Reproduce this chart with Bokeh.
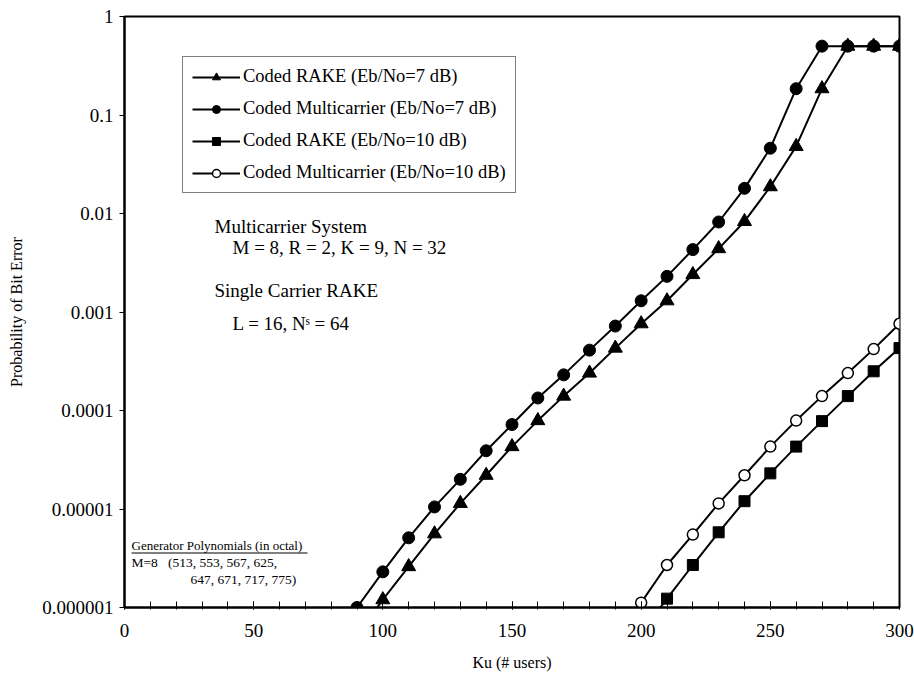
from bokeh.plotting import figure
from bokeh.models import Label, FixedTicker, CustomJSTickFormatter, Range1d, Legend, LegendItem, BoxAnnotation
from bokeh.embed import file_html
from bokeh.resources import INLINE

# ---- data ----
x_rake7 = [90, 100, 110, 120, 130, 140, 150, 160, 170, 180, 190, 200, 210, 220, 230, 240, 250, 260, 270, 280, 290, 300]
y_rake7 = [5.2e-7, 1.2e-6, 2.6e-6, 5.6e-6, 1.14e-5, 2.2e-5, 4.3e-5, 7.9e-5, 1.4e-4, 2.4e-4, 4.3e-4, 7.6e-4,
           1.3e-3, 2.4e-3, 4.4e-3, 8.3e-3, 1.87e-2, 4.8e-2, 0.185, 0.5, 0.5, 0.5]

x_mc7 = [80, 90, 100, 110, 120, 130, 140, 150, 160, 170, 180, 190, 200, 210, 220, 230, 240, 250, 260, 270, 280, 290, 300]
y_mc7 = [4.3e-7, 1.0e-6, 2.3e-6, 5.1e-6, 1.05e-5, 2.0e-5, 3.9e-5, 7.2e-5, 1.34e-4, 2.3e-4, 4.1e-4, 7.2e-4,
         1.3e-3, 2.3e-3, 4.3e-3, 8.2e-3, 1.8e-2, 4.6e-2, 0.185, 0.5, 0.5, 0.5, 0.5]

x_rake10 = [200, 210, 220, 230, 240, 250, 260, 270, 280, 290, 300]
y_rake10 = [5.5e-7, 1.23e-6, 2.7e-6, 5.8e-6, 1.2e-5, 2.3e-5, 4.3e-5, 7.8e-5, 1.4e-4, 2.5e-4, 4.3e-4]

x_mc10 = [190, 200, 210, 220, 230, 240, 250, 260, 270, 280, 290, 300]
y_mc10 = [4.5e-7, 1.12e-6, 2.7e-6, 5.5e-6, 1.14e-5, 2.2e-5, 4.3e-5, 7.9e-5, 1.4e-4, 2.4e-4, 4.2e-4, 7.6e-4]

series_labels = ["Coded RAKE (Eb/No=7 dB)", "Coded Multicarrier (Eb/No=7 dB)",
                 "Coded RAKE (Eb/No=10 dB)", "Coded Multicarrier (Eb/No=10 dB)"]

x_ticks = [0, 50, 100, 150, 200, 250, 300]
y_ticks = [1e-6, 1e-5, 1e-4, 1e-3, 1e-2, 1e-1, 1]
y_tick_labels = ["0.000001", "0.00001", "0.0001", "0.001", "0.01", "0.1", "1"]

FONT = "Liberation Serif"
NB = "\u00a0"

p = figure(width=914, height=677, y_axis_type="log", output_backend="svg", toolbar_location=None,
           x_range=Range1d(0, 300), y_range=Range1d(1e-6, 1),
           min_border_left=124, min_border_right=15, min_border_top=16, min_border_bottom=70)
p.xgrid.visible = False
p.ygrid.visible = False
p.outline_line_color = "black"
p.outline_line_width = 2
p.background_fill_color = "white"
p.border_fill_color = "white"

# axes
p.xaxis.ticker = FixedTicker(ticks=x_ticks, minor_ticks=list(range(0, 301, 10)))
p.yaxis.ticker = FixedTicker(ticks=y_ticks, minor_ticks=[])
p.yaxis.formatter = CustomJSTickFormatter(args=dict(tvals=y_ticks, tlabels=y_tick_labels), code="""
    let best = -1, bd = 1e9;
    for (let i = 0; i < tvals.length; i++) {
        const d = Math.abs(Math.log10(tvals[i]) - Math.log10(tick));
        if (d < bd) { bd = d; best = i; }
    }
    return bd < 1e-3 ? tlabels[best] : "";
""")
for ax in (p.xaxis, p.yaxis):
    ax.axis_line_color = "black"
    ax.axis_line_width = 2
    ax.major_tick_line_color = "black"
    ax.minor_tick_line_color = "black"
    ax.major_tick_line_width = 1
    ax.minor_tick_line_width = 1
    ax.major_label_text_font = FONT
    ax.major_label_text_font_size = "19px"
    ax.major_label_text_color = "black"
    ax.axis_label_text_font = FONT
    ax.axis_label_text_font_size = "16px"
    ax.axis_label_text_font_style = "normal"
    ax.axis_label_text_color = "black"

p.xaxis.major_tick_in = 6
p.xaxis.major_tick_out = 2
p.xaxis.minor_tick_in = 6
p.xaxis.minor_tick_out = 2
p.xaxis.major_label_standoff = 14
p.xaxis.axis_label = "Ku (# users)"
p.xaxis.axis_label_standoff = 14

p.yaxis.major_tick_in = 0
p.yaxis.major_tick_out = 5
p.yaxis.major_label_standoff = 6
p.yaxis.axis_label = "Probability of Bit Error"
p.yaxis.axis_label_standoff = 14

# series (multicarrier 7 dB drawn first so the triangles sit on top on the plateau)
r2l = p.line(x_mc7, y_mc7, line_color="black", line_width=2)
r2s = p.scatter(x_mc7, y_mc7, marker="circle", size=12, fill_color="black", line_color="black")
r1l = p.line(x_rake7, y_rake7, line_color="black", line_width=2)
r1s = p.scatter(x_rake7, y_rake7, marker="triangle", size=14, fill_color="black", line_color="black")
r3l = p.line(x_rake10, y_rake10, line_color="black", line_width=2)
r3s = p.scatter(x_rake10, y_rake10, marker="square", size=11, fill_color="black", line_color="black")
r4l = p.line(x_mc10, y_mc10, line_color="black", line_width=2)
r4s = p.scatter(x_mc10, y_mc10, marker="circle", size=11, fill_color="white", line_color="black", line_width=1.5)

legend = Legend(items=[
    LegendItem(label=series_labels[0], renderers=[r1l, r1s]),
    LegendItem(label=series_labels[1], renderers=[r2l, r2s]),
    LegendItem(label=series_labels[2], renderers=[r3l, r3s]),
    LegendItem(label=series_labels[3], renderers=[r4l, r4s]),
], location=(58, 414))
legend.border_line_color = "black"
legend.border_line_width = 1
legend.background_fill_color = "white"
legend.background_fill_alpha = 1
legend.label_text_font = FONT
legend.label_text_font_size = "18.5px"
legend.label_text_color = "black"
legend.glyph_width = 48
legend.glyph_height = 20
legend.label_height = 20
legend.spacing = 11
legend.padding = 9
legend.label_standoff = 3
legend.margin = 0
p.add_layout(legend, "center")

# annotations (screen units relative to frame: x from left edge, y from bottom edge)
def lab(text, x, y, size):
    p.add_layout(Label(x=x, y=y, x_units="screen", y_units="screen", text=text,
                       text_font=FONT, text_font_size=size, text_color="black",
                       text_baseline="middle", text_align="left"))

lab("Multicarrier System", 214 - 124, 607 - 226, "19px")
lab("M = 8, R = 2, K = 9, N = 32", 232 - 124, 607 - 247, "19px")
lab("Single Carrier RAKE", 214 - 124, 607 - 290, "19px")
lab("L = 16, N\u02e2 = 64", 232 - 124, 607 - 323, "19px")
lab("Generator Polynomials (in octal)", 131 - 124, 607 - 545, "13px")
lab("M=8" + NB * 3 + "(513, 553, 567, 625,", 131 - 124, 607 - 562, "13.5px")
lab("647, 671, 717, 775)", 190 - 124, 607 - 579, "13.5px")
# underline of the heading
p.add_layout(BoxAnnotation(left=131 - 124, right=131 - 124 + 176, bottom=607 - 553, top=607 - 552,
                           left_units="screen", right_units="screen", bottom_units="screen", top_units="screen",
                           fill_color="black", fill_alpha=1, line_color=None))

open("out.html", "w").write(file_html(p, INLINE))
